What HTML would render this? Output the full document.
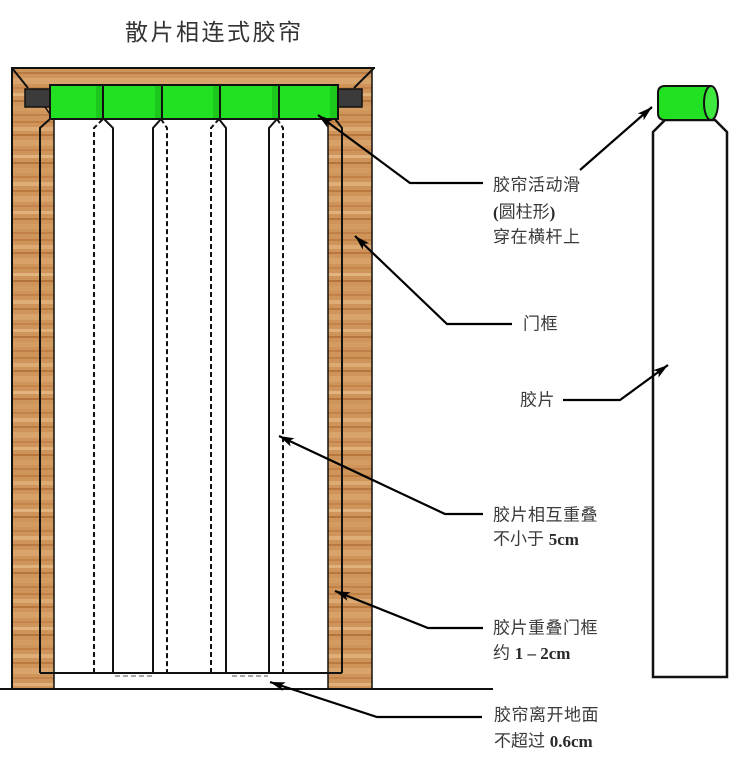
<!DOCTYPE html>
<html>
<head>
<meta charset="utf-8">
<style>
  html,body{margin:0;padding:0;background:#fff;}
  body{width:742px;height:762px;overflow:hidden;}
  svg{display:block;}
  .cjk{font-family:"Liberation Sans","Noto Sans CJK SC",sans-serif;fill:#3a3a3a;font-size:17px;}
  .lat{font-family:"Liberation Serif",serif;font-weight:bold;fill:#2a2a2a;}
</style>
</head>
<body>
<svg width="742" height="762" viewBox="0 0 742 762" xmlns="http://www.w3.org/2000/svg">
  <defs>
    <pattern id="wood" patternUnits="userSpaceOnUse" width="60" height="118">
      <rect width="60" height="118" fill="#cf9459"/>
      <rect y="3" width="60" height="2" fill="#bf7f45"/>
      <rect y="9" width="60" height="4" fill="#dcaa72"/>
      <rect y="16" width="60" height="2" fill="#b8773e"/>
      <rect y="22" width="60" height="6" fill="#d8a168"/>
      <rect y="31" width="60" height="2" fill="#c4844a"/>
      <rect y="37" width="60" height="3" fill="#e1b37e"/>
      <rect y="44" width="60" height="2" fill="#b5743c"/>
      <rect y="50" width="60" height="5" fill="#d49b61"/>
      <rect y="58" width="60" height="2" fill="#c18148"/>
      <rect y="64" width="60" height="4" fill="#dfae76"/>
      <rect y="72" width="60" height="2" fill="#b97a41"/>
      <rect y="78" width="60" height="6" fill="#d9a46b"/>
      <rect y="87" width="60" height="2" fill="#c3834a"/>
      <rect y="93" width="60" height="3" fill="#e0b17b"/>
      <rect y="100" width="60" height="2" fill="#b6763d"/>
      <rect y="106" width="60" height="5" fill="#d59c62"/>
      <rect y="114" width="60" height="2" fill="#c08047"/>
    </pattern>
    <marker id="ah" markerUnits="userSpaceOnUse" markerWidth="16" markerHeight="12" refX="15" refY="6" orient="auto">
      <path d="M0,1.5 L15,6 L0,10.5 L3.5,6 Z" fill="#000"/>
    </marker>
  </defs>

  <!-- Title -->
  <text x="125" y="40" font-family="Liberation Sans,'Noto Sans CJK SC',sans-serif" font-size="23" letter-spacing="2.5" fill="#333">散片相连式胶帘</text>

  <!-- Frame wood -->
  <rect x="12" y="68" width="360" height="621" fill="url(#wood)"/>
  <!-- opening -->
  <rect x="54" y="118" width="274" height="571" fill="#fff"/>

  <!-- frame outlines -->
  <path d="M12,689 L12,68 L375,68" fill="none" stroke="#111" stroke-width="2"/>
  <path d="M372,68 L372,689" fill="none" stroke="#111" stroke-width="1.5"/>
  <path d="M12,68 L28,88" stroke="#111" stroke-width="2"/>
  <path d="M374,68 L354,88" stroke="#111" stroke-width="2"/>
  <path d="M45,107 L54,120 L54,689" fill="none" stroke="#111" stroke-width="1.5"/>
  <path d="M338,107 L328,120 L328,689" fill="none" stroke="#111" stroke-width="1.5"/>

  <!-- dark rod ends -->
  <rect x="25" y="89" width="25" height="18" fill="#3b3b3b" stroke="#111" stroke-width="1.5"/>
  <rect x="338" y="89" width="24" height="18" fill="#3b3b3b" stroke="#111" stroke-width="1.5"/>

  <!-- green rod -->
  <rect x="50" y="85" width="288" height="34" fill="#22e022" stroke="#111" stroke-width="2"/>
  <rect x="96" y="86" width="6" height="32" fill="#1bb81b" opacity="0.6"/>
  <rect x="155" y="86" width="6" height="32" fill="#1bb81b" opacity="0.6"/>
  <rect x="213" y="86" width="6" height="32" fill="#1bb81b" opacity="0.6"/>
  <rect x="272" y="86" width="6" height="32" fill="#1bb81b" opacity="0.6"/>
  <rect x="330" y="86" width="7" height="32" fill="#1bb81b" opacity="0.6"/>
  <path d="M103,85 L103,119 M162,85 L162,119 M220,85 L220,119 M279,85 L279,119" stroke="#111" stroke-width="2"/>

  <!-- front slats (solid) -->
  <g fill="none" stroke="#111" stroke-width="2">
    <path d="M40,673 L40,128 L50,119"/>
    <path d="M104,119 L113,128 L113,673"/>
    <path d="M153,673 L153,128 L161,119"/>
    <path d="M219,119 L226,128 L226,673"/>
    <path d="M269,673 L269,128 L277,119"/>
    <path d="M335,119 L342,128 L342,673"/>
    <path d="M40,673 L342,673"/>
  </g>
  <!-- back slats (dashed) -->
  <g fill="none" stroke="#111" stroke-width="2" stroke-dasharray="5,3">
    <path d="M94,673 L94,128 L103,119"/>
    <path d="M161,119 L167,128 L167,673"/>
    <path d="M211,673 L211,128 L219,119"/>
    <path d="M277,119 L283,128 L283,673"/>
    <path d="M115,676 L152,676 M232,676 L268,676" stroke-width="1.2" stroke="#777"/>
  </g>

  <!-- ground -->
  <path d="M0,689 L493,689" stroke="#111" stroke-width="2"/>

  <!-- Right single slat -->
  <path d="M653,677 L653,132 L665,120 L715,120 L727,132 L727,677 Z" fill="#fff" stroke="#111" stroke-width="2.5"/>
  <!-- cylinder -->
  <path d="M711,86 L665,86 Q658,86 658,93 L658,113 Q658,120 665,120 L711,120" fill="#22e022" stroke="#111" stroke-width="2"/>
  <ellipse cx="711" cy="103" rx="7" ry="17" fill="#3ee83e" stroke="#111" stroke-width="2"/>

  <!-- leader arrows -->
  <g fill="none" stroke="#000" stroke-width="2.2">
    <polyline points="483,183 410,183 318,115" marker-end="url(#ah)"/>
    <line x1="580" y1="170" x2="652" y2="107" marker-end="url(#ah)"/>
    <polyline points="512,324 447,324 355,236" marker-end="url(#ah)"/>
    <polyline points="563,400 620,400 668,365" marker-end="url(#ah)"/>
    <polyline points="483,514 445,514 279,436" marker-end="url(#ah)"/>
    <polyline points="483,628 428,628 335,591" marker-end="url(#ah)"/>
    <polyline points="482,717 377,717 270,682" marker-end="url(#ah)"/>
  </g>

  <!-- labels -->
  <g class="cjk" dominant-baseline="central">
    <text x="493" y="185" letter-spacing="0.5">胶帘活动滑</text>
    <text x="493" y="212"><tspan class="lat">(</tspan>圆柱形<tspan class="lat">)</tspan></text>
    <text x="493" y="237" letter-spacing="0.5">穿在横杆上</text>
    <text x="523" y="324" letter-spacing="0.5">门框</text>
    <text x="520" y="400" letter-spacing="0.5">胶片</text>
    <text x="493" y="515" letter-spacing="0.5">胶片相互重叠</text>
    <text x="493" y="539">不小于 <tspan class="lat">5cm</tspan></text>
    <text x="493" y="628" letter-spacing="0.5">胶片重叠门框</text>
    <text x="493" y="653">约 <tspan class="lat">1 – 2cm</tspan></text>
    <text x="494" y="715" letter-spacing="0.5">胶帘离开地面</text>
    <text x="494" y="741">不超过 <tspan class="lat">0.6cm</tspan></text>
  </g>
</svg>
</body>
</html>
